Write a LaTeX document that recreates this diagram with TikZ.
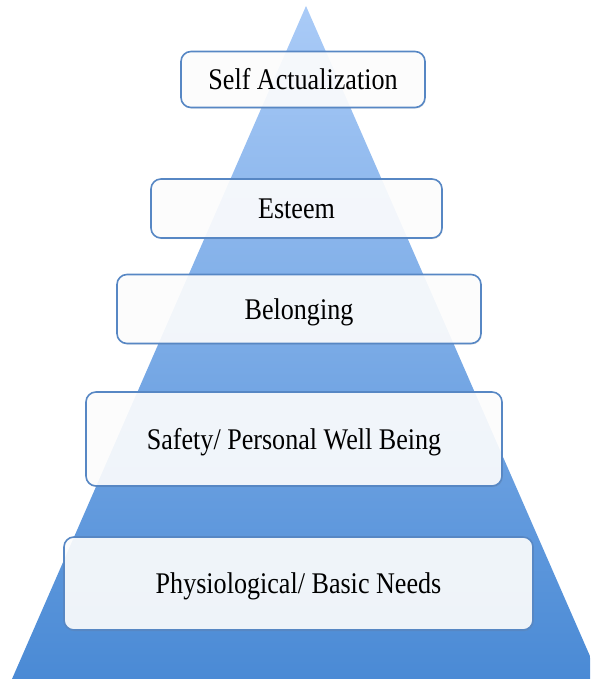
\documentclass[tikz,border=0pt]{standalone}
\usepackage{fontspec}
\setmainfont[FakeStretch=0.87]{Liberation Serif}
\usetikzlibrary{shadows}
\definecolor{pyrtop}{HTML}{AACBF7}
\definecolor{pyrbot}{HTML}{4A8AD5}
\definecolor{boxline}{HTML}{5787C4}
\tikzset{
  level/.style={draw=boxline, line width=1.6pt, rounded corners=10pt,
    fill=white, fill opacity=0.9, text opacity=1, inner sep=0pt,
    text height=20pt, text depth=0pt, font=\fontsize{30}{31}\selectfont,
    drop shadow={opacity=0.18, shadow xshift=0.8pt, shadow yshift=-1.2pt}},
}
\begin{document}
\begin{tikzpicture}[x=1pt, y=-1pt]
  \useasboundingbox (0,0) rectangle (590,679);
  % pyramid with vertical gradient, clipped at the right margin
  \begin{scope}
    \clip (0,0) rectangle (590,679);
    \shade[top color=pyrtop, bottom color=pyrbot]
      (306,6) -- (600,679) -- (12,679) -- cycle;
  \end{scope}
  % the five levels, top to bottom
  \node[level, minimum width=244pt, minimum height=56pt] (self)   at (303,79.5)    {Self Actualization};
  \node[level, minimum width=291pt, minimum height=59pt] (esteem) at (296.5,208.5) {Esteem};
  \node[level, minimum width=364pt, minimum height=69pt] (belong) at (299,309)   {Belonging};
  \node[level, minimum width=416pt, minimum height=94pt] (safety) at (294,439)   {Safety/ Personal Well Being};
  \node[level, minimum width=469pt, minimum height=93pt] (basic)  at (298.5,583.5) {Physiological/ Basic Needs};
\end{tikzpicture}
\end{document}
